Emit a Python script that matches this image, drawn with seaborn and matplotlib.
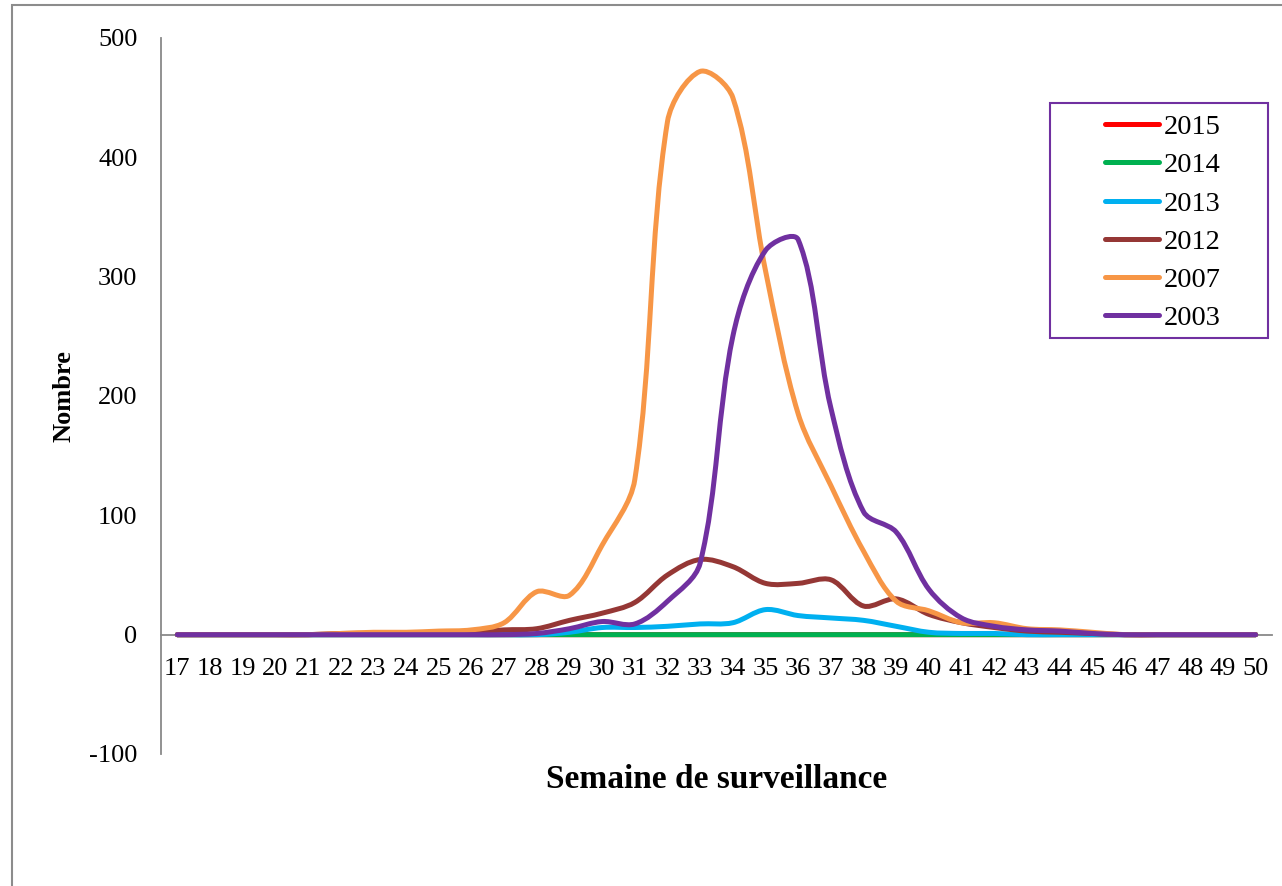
import matplotlib
matplotlib.use("Agg")
import matplotlib.pyplot as plt
import seaborn as sns
import numpy as np
import pandas as pd
from matplotlib.path import Path
from matplotlib.patches import PathPatch, Rectangle
from matplotlib.lines import Line2D

# semaines de surveillance 17 .. 50
weeks = [17, 18, 19, 20, 21, 22, 23, 24, 25, 26, 27, 28, 29, 30, 31, 32, 33,
         34, 35, 36, 37, 38, 39, 40, 41, 42, 43, 44, 45, 46, 47, 48, 49, 50]

y2015 = [0, 0, 0, 0, 0, 0, 0, 0, 0, 0, 0, 0, 0, 0, 0, 0, 0,
         0, 0, 0, 0, 0, 0, 0, 0, 0, 0, 0, 0, 0, 0, 0, 0, 0]
y2014 = [0, 0, 0, 0, 0, 0, 0, 0, 0, 0, 0, 0, 0, 0, 0, 0, 0,
         0, 0, 0, 0, 0, 0, 0, 0, 0, 0, 0, 0, 0, 0, 0, 0, 0]
y2013 = [0, 0, 0, 0, 0, 0, 0, 0, 0, 0, 0, 0, 2, 6, 6, 7, 9,
         10, 21, 16, 14, 12, 7, 2, 1, 1, 0, 0, 0, 0, 0, 0, 0, 0]
y2012 = [0, 0, 0, 0, 0, 1, 1, 1, 1, 2, 4, 5, 12, 18, 27, 50, 63,
         57, 43, 43, 46, 24, 30, 17, 10, 6, 3, 2, 1, 0, 0, 0, 0, 0]
y2007 = [0, 0, 0, 0, 0, 1, 2, 2, 3, 4, 10, 36, 33, 75, 130, 430, 472,
         450, 305, 185, 125, 70, 28, 20, 10, 10, 5, 4, 2, 0, 0, 0, 0, 0]
y2003 = [0, 0, 0, 0, 0, 0, 0, 0, 0, 0, 0, 1, 5, 11, 9, 28, 60,
         250, 322, 331, 190, 103, 86, 38, 14, 7, 4, 3, 1, 0, 0, 0, 0, 0]

years = ["2015", "2014", "2013", "2012", "2007", "2003"]
series = [y2015, y2014, y2013, y2012, y2007, y2003]
colors = ["#FF0000", "#00B050", "#00B0F0", "#953735", "#F79646", "#7030A0"]

yticks = [-100, 0, 100, 200, 300, 400, 500]


def smooth_path(ax, x, y):
    # courbe lissée façon Excel : Bezier dont les poignées dépendent
    # de la longueur (à l'écran) des segments voisins
    pts = np.column_stack([np.asarray(x, float), np.asarray(y, float)])
    disp = ax.transData.transform(pts)
    ext = np.vstack([pts[0], pts, pts[-1]])
    dext = np.vstack([disp[0], disp, disp[-1]])
    seg = np.hypot(*np.diff(dext, axis=0).T)
    verts = [pts[0]]
    codes = [Path.MOVETO]
    for i in range(len(pts) - 1):
        p0, p1, p2, p3 = ext[i], ext[i + 1], ext[i + 2], ext[i + 3]
        d01, d12, d23 = seg[i], seg[i + 1], seg[i + 2]
        f1 = d12 / (d01 + d12) / 3
        f2 = d12 / (d12 + d23) / 3
        verts += [p1 + (p2 - p0) * f1, p2 - (p3 - p1) * f2, p2]
        codes += [Path.CURVE4] * 3
    return Path(verts, codes)


df = pd.DataFrame({
    "Semaine": weeks * len(years),
    "Nombre": [v for s in series for v in s],
    "Annee": [yr for yr in years for _ in weeks],
})

sns.set_style("white")
plt.rcParams["font.family"] = ["Liberation Serif", "DejaVu Serif"]
plt.rcParams["axes.unicode_minus"] = False
plt.rcParams["text.color"] = "black"
plt.rcParams["axes.labelcolor"] = "black"

W, H = 1282, 886
fig = plt.figure(figsize=(W / 100, H / 100), dpi=100)
ax = fig.add_axes([161 / W, 1 - 754 / H, 1111 / W, 716 / H])

sns.lineplot(data=df, x="Semaine", y="Nombre", hue="Annee", hue_order=years,
             palette=colors, linewidth=3.6, legend=False, ax=ax)

ax.set_xlim(16.5, 50.5)
ax.set_ylim(-100, 500)

# remplacer les segments droits par des courbes lissées
for line in list(ax.lines):
    xd, yd = line.get_data()
    patch = PathPatch(smooth_path(ax, xd, yd), fill=False, edgecolor=line.get_color(),
                      lw=line.get_linewidth(), capstyle="round", joinstyle="round",
                      zorder=3)
    ax.add_patch(patch)
    line.remove()

ax.set_xticks(weeks)
ax.set_xticklabels([str(w) for w in weeks])
ax.set_yticks(yticks)
ax.set_yticklabels([str(t) for t in yticks])

for side in ["top", "right"]:
    ax.spines[side].set_visible(False)
ax.spines["left"].set_color("#898989")
ax.spines["left"].set_linewidth(1.3)
ax.spines["bottom"].set_position(("data", 0))
ax.spines["bottom"].set_color("#898989")
ax.spines["bottom"].set_linewidth(1.3)

ax.tick_params(axis="x", length=0, pad=17, labelsize=19, colors="black")
ax.tick_params(axis="y", length=0, pad=17, labelsize=19, colors="black")
ax.grid(False)

ax.set_xlabel("Semaine de surveillance", fontsize=24, fontweight="bold",
              va="center", color="black")
ax.xaxis.set_label_coords(0.5, -0.036)
ax.set_ylabel("Nombre", fontsize=19, fontweight="bold", va="center", color="black")
ax.yaxis.set_label_coords(-0.087, 0.5)

handles = [Line2D([0], [0], color=c, lw=3.6, solid_capstyle="round") for c in colors]
fig.legend(handles, years, loc="upper left", bbox_to_anchor=(1091 / W, 1 - 100 / H),
           frameon=False, borderpad=0, fontsize=20.5, handlelength=1.9,
           handletextpad=0.15, labelspacing=0.43, labelcolor="black")
fig.add_artist(Rectangle((1050 / W, 1 - 338 / H), 218 / W, 235 / H,
                         transform=fig.transFigure, fill=False,
                         edgecolor="#7030A0", lw=1.5))

# cadre gris de la zone de graphique
fig.add_artist(Rectangle((12 / W, -0.05), 1.2, 1 - 5 / H + 0.05,
                         transform=fig.transFigure, fill=False,
                         edgecolor="#8C8C8C", lw=1.5))

fig.savefig("out.png", dpi=100)
